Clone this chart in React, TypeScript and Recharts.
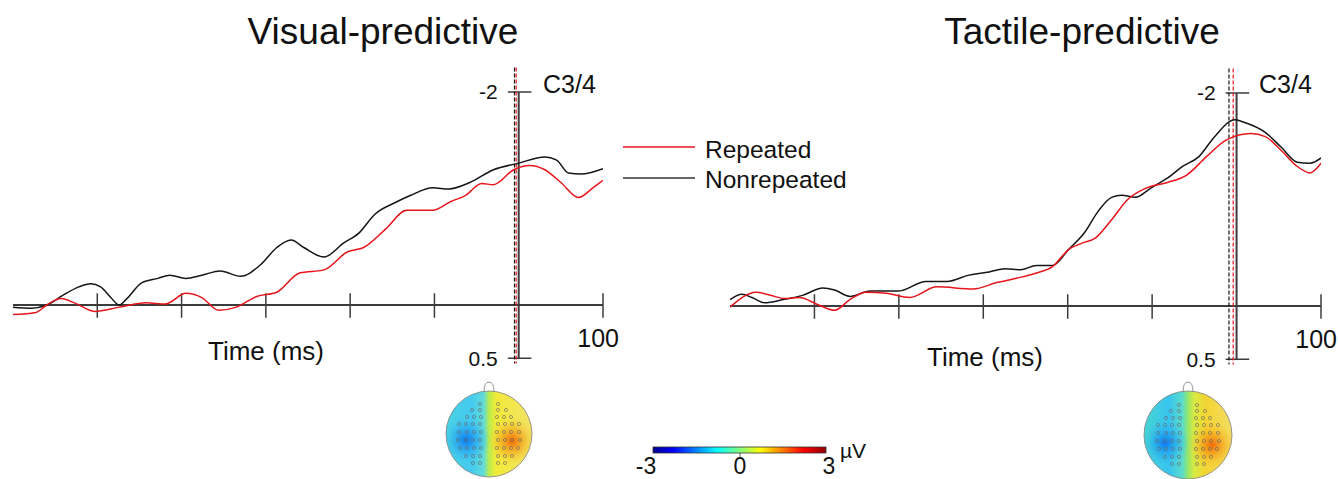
import React from 'react';
import { LineChart, Line, XAxis, YAxis, ReferenceLine } from 'recharts';

// ERP waveforms at C3/4, time in ms, amplitude in µV (negative up)
const visualNonrepeated = [
  { t: -600, v: 0.02 }, { t: -578, v: 0.03 }, { t: -560, v: 0 }, { t: -541, v: -0.09 },
  { t: -522, v: -0.17 }, { t: -508, v: -0.2 }, { t: -496, v: -0.17 }, { t: -484, v: -0.07 },
  { t: -474, v: 0 }, { t: -466, v: -0.05 }, { t: -447, v: -0.21 }, { t: -428, v: -0.25 },
  { t: -414, v: -0.28 }, { t: -395, v: -0.25 }, { t: -376, v: -0.28 }, { t: -354, v: -0.32 },
  { t: -330, v: -0.27 }, { t: -306, v: -0.38 }, { t: -287, v: -0.54 }, { t: -270, v: -0.61 },
  { t: -255, v: -0.54 }, { t: -231, v: -0.45 }, { t: -208, v: -0.58 }, { t: -189, v: -0.68 },
  { t: -171, v: -0.85 }, { t: -147, v: -0.96 }, { t: -128, v: -1.03 }, { t: -102, v: -1.1 },
  { t: -83, v: -1.09 }, { t: -58, v: -1.15 }, { t: -30, v: -1.27 }, { t: -1, v: -1.33 },
  { t: 31, v: -1.39 }, { t: 45, v: -1.36 }, { t: 59, v: -1.24 }, { t: 74, v: -1.23 },
  { t: 100, v: -1.28 },
];

const visualRepeated = [
  { t: -600, v: 0.09 }, { t: -573, v: 0.07 }, { t: -560, v: 0 }, { t: -543, v: -0.06 },
  { t: -527, v: -0.02 }, { t: -503, v: 0.06 }, { t: -474, v: 0.02 }, { t: -442, v: -0.02 },
  { t: -419, v: -0.01 }, { t: -395, v: -0.11 }, { t: -376, v: -0.07 }, { t: -356, v: 0.05 },
  { t: -335, v: 0.02 }, { t: -311, v: -0.08 }, { t: -287, v: -0.12 }, { t: -260, v: -0.3 },
  { t: -231, v: -0.33 }, { t: -203, v: -0.5 }, { t: -184, v: -0.54 }, { t: -157, v: -0.72 },
  { t: -133, v: -0.89 }, { t: -102, v: -0.89 }, { t: -81, v: -0.97 }, { t: -63, v: -1.03 },
  { t: -44, v: -1.14 }, { t: -30, v: -1.13 }, { t: -6, v: -1.27 }, { t: 13, v: -1.31 },
  { t: 31, v: -1.27 }, { t: 50, v: -1.15 }, { t: 71, v: -1.01 }, { t: 88, v: -1.1 },
  { t: 100, v: -1.17 },
];

const tactileNonrepeated = [
  { t: -600, v: -0.06 }, { t: -586, v: -0.11 }, { t: -574, v: -0.08 }, { t: -559, v: -0.03 },
  { t: -537, v: -0.06 }, { t: -514, v: -0.1 }, { t: -490, v: -0.17 }, { t: -476, v: -0.15 },
  { t: -458, v: -0.09 }, { t: -434, v: -0.14 }, { t: -401, v: -0.14 }, { t: -368, v: -0.23 },
  { t: -343, v: -0.23 }, { t: -317, v: -0.29 }, { t: -293, v: -0.32 }, { t: -274, v: -0.35 },
  { t: -256, v: -0.34 }, { t: -237, v: -0.38 }, { t: -218, v: -0.38 }, { t: -199, v: -0.53 },
  { t: -180, v: -0.69 }, { t: -163, v: -0.9 }, { t: -148, v: -1.02 }, { t: -136, v: -1.04 },
  { t: -120, v: -1.02 }, { t: -101, v: -1.11 }, { t: -82, v: -1.2 }, { t: -64, v: -1.31 },
  { t: -45, v: -1.4 }, { t: -26, v: -1.59 }, { t: -2, v: -1.75 }, { t: 7, v: -1.73 },
  { t: 34, v: -1.63 }, { t: 53, v: -1.49 }, { t: 72, v: -1.35 }, { t: 87, v: -1.34 },
  { t: 100, v: -1.39 },
];

const tactileRepeated = [
  { t: -600, v: 0.01 }, { t: -569, v: -0.13 }, { t: -552, v: -0.1 }, { t: -535, v: -0.07 },
  { t: -518, v: -0.08 }, { t: -495, v: -0.01 }, { t: -476, v: 0.04 }, { t: -458, v: -0.06 },
  { t: -439, v: -0.13 }, { t: -415, v: -0.12 }, { t: -387, v: -0.08 }, { t: -355, v: -0.18 },
  { t: -312, v: -0.16 }, { t: -284, v: -0.22 }, { t: -261, v: -0.26 }, { t: -237, v: -0.31 },
  { t: -218, v: -0.37 }, { t: -199, v: -0.53 }, { t: -183, v: -0.59 }, { t: -167, v: -0.64 },
  { t: -148, v: -0.81 }, { t: -129, v: -1.0 }, { t: -106, v: -1.11 }, { t: -82, v: -1.16 },
  { t: -59, v: -1.23 }, { t: -36, v: -1.4 }, { t: -12, v: -1.56 }, { t: 17, v: -1.62 },
  { t: 34, v: -1.59 }, { t: 53, v: -1.46 }, { t: 72, v: -1.31 }, { t: 87, v: -1.25 },
  { t: 100, v: -1.34 },
];

const xTicks = [-500, -400, -300, -200, -100, 100];
const yTicks = [
  { v: -2, label: '-2' },
  { v: 0.5, label: '0.5' },
];
const colorbarTicks = ['-3', '0', '3'];

const FONT = '"Liberation Sans", Arial, sans-serif';
const AXIS = '#3c3c3c';
const RED = '#e8141c';
const BLACK = '#161616';

type Pt = { t: number; v: number };

// "100" sits just below-right of the last x tick
const EndLabel = (p: any) => {
  const vb = p.viewBox || {};
  return (
    <text x={vb.x + 16} y={vb.y + vb.height + 29} textAnchor="end" fontSize={25} fill="#111" fontFamily={FONT}>
      100
    </text>
  );
};

function Panel(props: {
  left: number;
  width: number;
  margin: { top: number; right: number; bottom: number; left: number };
  repeated: Pt[];
  nonrepeated: Pt[];
  blackDash: number;
  redDash: number;
}) {
  const { left, width, margin, repeated, nonrepeated, blackDash, redDash } = props;
  return (
    <div style={{ position: 'absolute', left, top: 0 }}>
      <LineChart width={width} height={400} margin={margin}>
        <XAxis type="number" dataKey="t" domain={[-600, 100]} hide allowDataOverflow />
        <YAxis type="number" domain={[-2.3, 0.7]} reversed hide allowDataOverflow />
        <ReferenceLine y={0} stroke={AXIS} strokeWidth={2} />
        {xTicks.map((t) => (
          <ReferenceLine
            key={t}
            segment={[{ x: t, y: -0.11 }, { x: t, y: 0.12 }]}
            stroke={AXIS}
            strokeWidth={1.5}
            label={t === 100 ? <EndLabel /> : undefined}
          />
        ))}
        <ReferenceLine segment={[{ x: 0, y: -2 }, { x: 0, y: 0.5 }]} stroke={AXIS} strokeWidth={2} />
        {yTicks.map((yt) => (
          <ReferenceLine
            key={yt.label}
            segment={[{ x: -13, y: yt.v }, { x: 15, y: yt.v }]}
            stroke={AXIS}
            strokeWidth={1.5}
            label={{ value: yt.label, position: 'left', offset: 10, fontSize: 21, fill: '#111', fontFamily: FONT }}
          />
        ))}
        <ReferenceLine segment={[{ x: blackDash, y: -2.23 }, { x: blackDash, y: 0.55 }]} stroke={BLACK} strokeWidth={1.2} strokeDasharray="4 2" />
        <ReferenceLine segment={[{ x: redDash, y: -2.23 }, { x: redDash, y: 0.55 }]} stroke={RED} strokeWidth={1.2} strokeDasharray="4 2" />
        <Line data={nonrepeated} dataKey="v" type="monotone" stroke={BLACK} strokeWidth={1.5} dot={false} isAnimationActive={false} />
        <Line data={repeated} dataKey="v" type="monotone" stroke={RED} strokeWidth={1.5} dot={false} isAnimationActive={false} />
      </LineChart>
    </div>
  );
}

const electrodeRows: [number, number[]][] = [
  [-30, [9]],
  [-24, [9, 17]],
  [-17, [8, 15, 22]],
  [-10, [9, 16, 23, 30]],
  [-2, [8, 15, 22, 30]],
  [6, [9, 16, 23, 31]],
  [14, [8, 15, 22, 29]],
  [22, [9, 16, 23]],
  [29, [9, 16]],
];

function Topomap(props: { id: string; cx: number; cy: number; r: number; stops: [number, string][]; blue: [number, number]; orange: [number, number] }) {
  const { id, cx, cy, r, stops, blue, orange } = props;
  return (
    <g>
      <defs>
        <linearGradient id={`${id}-lin`} x1="0" y1="0" x2="1" y2="0">
          {stops.map(([o, c]) => <stop key={o} offset={o} stopColor={c} />)}
        </linearGradient>
        <radialGradient id={`${id}-blue`}>
          <stop offset="0" stopColor="#0c78f0" stopOpacity={1} />
          <stop offset="0.5" stopColor="#20a0f0" stopOpacity={0.55} />
          <stop offset="1" stopColor="#40c4f0" stopOpacity={0} />
        </radialGradient>
        <radialGradient id={`${id}-orange`}>
          <stop offset="0" stopColor="#f06a08" stopOpacity={1} />
          <stop offset="0.5" stopColor="#f5a01a" stopOpacity={0.6} />
          <stop offset="1" stopColor="#f5d030" stopOpacity={0} />
        </radialGradient>
        <clipPath id={`${id}-clip`}>
          <circle cx={cx} cy={cy} r={r} />
        </clipPath>
      </defs>
      <path d={`M ${cx - 5} ${cy - r + 1} Q ${cx - 5} ${cy - r - 9} ${cx} ${cy - r - 9} Q ${cx + 5} ${cy - r - 9} ${cx + 5} ${cy - r + 1}`} fill="none" stroke="#888" strokeWidth={0.9} />
      <g clipPath={`url(#${id}-clip)`}>
        <rect x={cx - r} y={cy - r} width={2 * r} height={2 * r} fill={`url(#${id}-lin)`} />
        <ellipse cx={blue[0]} cy={blue[1]} rx={24} ry={24} fill={`url(#${id}-blue)`} />
        <ellipse cx={orange[0]} cy={orange[1]} rx={24} ry={24} fill={`url(#${id}-orange)`} />
      </g>
      <circle cx={cx} cy={cy} r={r} fill="none" stroke="#808080" strokeWidth={0.8} />
      {electrodeRows.map(([dy, cols]) =>
        cols.flatMap((dx) => [-dx, dx]).map((dx) => (
          <circle key={`${dy}_${dx}`} cx={cx + dx} cy={cy + dy} r={1.6} fill="none" stroke="#666" strokeWidth={0.6} />
        ))
      )}
    </g>
  );
}

export default function App() {
  return (
    <div style={{ position: 'absolute', left: 0, top: 0, width: 1338, height: 479, background: '#fff', overflow: 'hidden', fontFamily: FONT }}>
      <Panel
        left={0}
        width={640}
        margin={{ top: 60.05, right: 37, bottom: 20.45, left: 13 }}
        repeated={visualRepeated}
        nonrepeated={visualNonrepeated}
        blackDash={-5}
        redDash={-3}
      />
      <Panel
        left={700}
        width={638}
        margin={{ top: 61.05, right: 17, bottom: 19.45, left: 30 }}
        repeated={tactileRepeated}
        nonrepeated={tactileNonrepeated}
        blackDash={-9}
        redDash={-4}
      />
      <svg width={1338} height={479} style={{ position: 'absolute', left: 0, top: 0, pointerEvents: 'none' }}>
        <defs>
          <linearGradient id="jet" x1="0" y1="0" x2="1" y2="0">
            <stop offset="0" stopColor="#00008f" />
            <stop offset="0.12" stopColor="#0000ff" />
            <stop offset="0.37" stopColor="#00ffff" />
            <stop offset="0.5" stopColor="#80ff80" />
            <stop offset="0.62" stopColor="#ffff00" />
            <stop offset="0.87" stopColor="#ff0000" />
            <stop offset="1" stopColor="#8f0000" />
          </linearGradient>
        </defs>
        <g fontFamily={FONT} fill="#111">
          <text x={383} y={44} fontSize={37} textAnchor="middle">Visual-predictive</text>
          <text x={1082} y={44} fontSize={37} textAnchor="middle">Tactile-predictive</text>
          <text x={543} y={93} fontSize={25}>C3/4</text>
          <text x={1259} y={93} fontSize={25}>C3/4</text>
          <text x={266} y={360} fontSize={26} textAnchor="middle">Time (ms)</text>
          <text x={985} y={366} fontSize={26} textAnchor="middle">Time (ms)</text>
          <text x={705} y={158} fontSize={24.5}>Repeated</text>
          <text x={705} y={188} fontSize={24.5}>Nonrepeated</text>
        </g>
        <line x1={623} x2={695} y1={147} y2={147} stroke={RED} strokeWidth={1.3} />
        <line x1={623} x2={695} y1={178} y2={178} stroke="#333" strokeWidth={1.3} />

        <Topomap
          id="tv"
          cx={489}
          cy={434}
          r={43}
          stops={[[0, '#4ad2e2'], [0.3, '#44caf0'], [0.44, '#62dcd6'], [0.5, '#b8ec50'], [0.58, '#f2ea38'], [1, '#f2e268']]}
          blue={[466, 440]}
          orange={[512, 441]}
        />
        <Topomap
          id="tt"
          cx={1188}
          cy={435}
          r={44}
          stops={[[0, '#48d6d0'], [0.28, '#36c4f0'], [0.44, '#5cdcc8'], [0.5, '#96e66c'], [0.57, '#d6ea42'], [0.7, '#f4d432'], [1, '#f2dc64']]}
          blue={[1165, 443]}
          orange={[1212, 445]}
        />

        <rect x={653} y={447} width={173} height={6} fill="url(#jet)" stroke="#333" strokeWidth={0.8} />
        <line x1={740} x2={740} y1={453} y2={457} stroke="#333" strokeWidth={0.8} />
        <g fontFamily={FONT} fill="#111" fontSize={23} textAnchor="middle">
          <text x={646} y={474}>{colorbarTicks[0]}</text>
          <text x={740} y={474}>{colorbarTicks[1]}</text>
          <text x={829} y={474}>{colorbarTicks[2]}</text>
        </g>
        <text x={840} y={458} fontFamily={FONT} fontSize={21} fill="#111">µV</text>
      </svg>
    </div>
  );
}
